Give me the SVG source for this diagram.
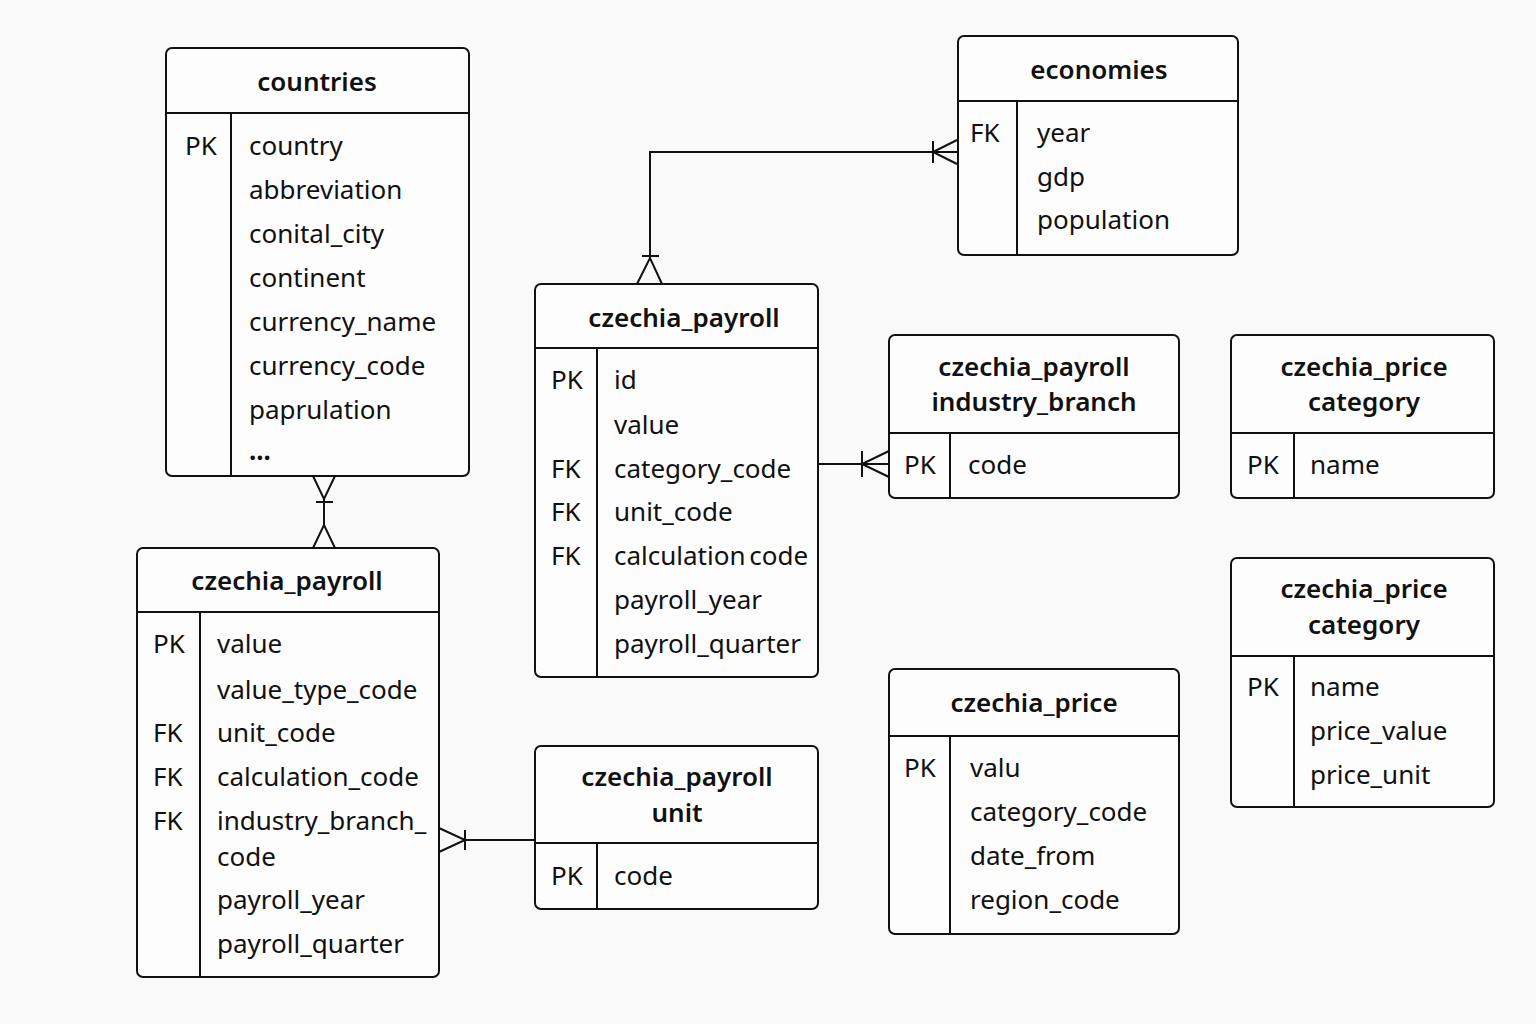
<svg xmlns="http://www.w3.org/2000/svg" width="1536" height="1024" viewBox="0 0 1536 1024">
<style>
.bg{fill:#f9f9f9}
.box{fill:#fdfdfd;stroke:#111;stroke-width:2}
.ln{stroke:#111;stroke-width:2;fill:none}
.t{font-family:"Noto Sans","Liberation Sans",sans-serif;font-size:26px;fill:#111}
.h{font-family:"Noto Sans","Liberation Sans",sans-serif;font-size:26px;font-weight:600;fill:#111;text-anchor:middle}
</style>
<rect class="bg" x="0" y="0" width="1536" height="1024"/>

<g id="countries">
<rect class="box" x="166" y="48" width="303" height="428" rx="6"/>
<line class="ln" x1="166" y1="113" x2="469" y2="113"/>
<line class="ln" x1="231" y1="113" x2="231" y2="476"/>
<text class="h" x="317" y="91">countries</text>
<text class="t" x="185" y="155">PK</text>
<text class="t" x="249" y="155">country</text>
<text class="t" x="249" y="199">abbreviation</text>
<text class="t" x="249" y="243">conital_city</text>
<text class="t" x="249" y="287">continent</text>
<text class="t" x="249" y="331">currency_name</text>
<text class="t" x="249" y="375">currency_code</text>
<text class="t" x="249" y="419">paprulation</text>
<text class="t" x="249" y="460" font-weight="bold">...</text>
</g>

<g id="czechia_payroll_left">
<rect class="box" x="137" y="548" width="302" height="429" rx="6"/>
<line class="ln" x1="137" y1="612" x2="439" y2="612"/>
<line class="ln" x1="200" y1="612" x2="200" y2="977"/>
<text class="h" x="287" y="590">czechia_payroll</text>
<text class="t" x="153" y="653">PK</text>
<text class="t" x="153" y="742">FK</text>
<text class="t" x="153" y="786">FK</text>
<text class="t" x="153" y="830">FK</text>
<text class="t" x="217" y="653">value</text>
<text class="t" x="217" y="699">value_type_code</text>
<text class="t" x="217" y="742">unit_code</text>
<text class="t" x="217" y="786">calculation_code</text>
<text class="t" x="217" y="830">industry_branch_</text>
<text class="t" x="217" y="866">code</text>
<text class="t" x="217" y="909">payroll_year</text>
<text class="t" x="217" y="953">payroll_quarter</text>
</g>

<g id="czechia_payroll_unit">
<rect class="box" x="535" y="746" width="283" height="163" rx="6"/>
<line class="ln" x1="535" y1="843" x2="818" y2="843"/>
<line class="ln" x1="597" y1="843" x2="597" y2="909"/>
<text class="h" x="677" y="786">czechia_payroll</text>
<text class="h" x="677" y="822">unit</text>
<text class="t" x="551" y="885">PK</text>
<text class="t" x="614" y="885">code</text>
</g>

<g id="czechia_payroll_mid">
<rect class="box" x="535" y="284" width="283" height="393" rx="6"/>
<line class="ln" x1="535" y1="348" x2="818" y2="348"/>
<line class="ln" x1="597" y1="348" x2="597" y2="677"/>
<text class="h" x="684" y="327">czechia_payroll</text>
<text class="t" x="551" y="389">PK</text>
<text class="t" x="551" y="478">FK</text>
<text class="t" x="551" y="521">FK</text>
<text class="t" x="551" y="565">FK</text>
<text class="t" x="614" y="389">id</text>
<text class="t" x="614" y="434">value</text>
<text class="t" x="614" y="478">category_code</text>
<text class="t" x="614" y="521">unit_code</text>
<text class="t" x="614" y="565" word-spacing="-3">calculation code</text>
<text class="t" x="614" y="609">payroll_year</text>
<text class="t" x="614" y="653">payroll_quarter</text>
</g>

<g id="economies">
<rect class="box" x="958" y="36" width="280" height="219" rx="6"/>
<line class="ln" x1="958" y1="101" x2="1238" y2="101"/>
<line class="ln" x1="1017" y1="101" x2="1017" y2="255"/>
<text class="h" x="1099" y="79">economies</text>
<text class="t" x="970" y="142">FK</text>
<text class="t" x="1037" y="142">year</text>
<text class="t" x="1037" y="186">gdp</text>
<text class="t" x="1037" y="229">population</text>
</g>

<g id="czechia_payroll_industry_branch">
<rect class="box" x="889" y="335" width="290" height="163" rx="6"/>
<line class="ln" x1="889" y1="433" x2="1179" y2="433"/>
<line class="ln" x1="950" y1="433" x2="950" y2="498"/>
<text class="h" x="1034" y="376">czechia_payroll</text>
<text class="h" x="1034" y="411">industry_branch</text>
<text class="t" x="904" y="474">PK</text>
<text class="t" x="968" y="474">code</text>
</g>

<g id="czechia_price_category_top">
<rect class="box" x="1231" y="335" width="263" height="163" rx="6"/>
<line class="ln" x1="1231" y1="433" x2="1494" y2="433"/>
<line class="ln" x1="1294" y1="433" x2="1294" y2="498"/>
<text class="h" x="1364" y="376">czechia_price</text>
<text class="h" x="1364" y="411">category</text>
<text class="t" x="1247" y="474">PK</text>
<text class="t" x="1310" y="474">name</text>
</g>

<g id="czechia_price_category_bottom">
<rect class="box" x="1231" y="558" width="263" height="249" rx="6"/>
<line class="ln" x1="1231" y1="656" x2="1494" y2="656"/>
<line class="ln" x1="1294" y1="656" x2="1294" y2="807"/>
<text class="h" x="1364" y="598">czechia_price</text>
<text class="h" x="1364" y="634">category</text>
<text class="t" x="1247" y="696">PK</text>
<text class="t" x="1310" y="696">name</text>
<text class="t" x="1310" y="740">price_value</text>
<text class="t" x="1310" y="784">price_unit</text>
</g>

<g id="czechia_price">
<rect class="box" x="889" y="669" width="290" height="265" rx="6"/>
<line class="ln" x1="889" y1="736" x2="1179" y2="736"/>
<line class="ln" x1="950" y1="736" x2="950" y2="934"/>
<text class="h" x="1034" y="712">czechia_price</text>
<text class="t" x="904" y="777">PK</text>
<text class="t" x="970" y="777">valu</text>
<text class="t" x="970" y="821">category_code</text>
<text class="t" x="970" y="865">date_from</text>
<text class="t" x="970" y="909">region_code</text>
</g>

<g id="connectors">
<path class="ln" d="M313 476 L324 499 L335 476 M324 499 L324 525 M316 502 L333 502 M313 548 L324 525 L335 548"/>
<path class="ln" d="M650 258 L650 152 L958 152 M642 256 L659 256 M637 284 L650 258 L662 284 M933 141 L933 163 M957 140 L933 152 L957 164"/>
<path class="ln" d="M818 464 L889 464 M862 451 L862 477 M889 451 L862 464 L889 477"/>
<path class="ln" d="M535 840 L465 840 M465 830 L465 850 M439 828 L465 840 L439 852"/>
</g>
</svg>
